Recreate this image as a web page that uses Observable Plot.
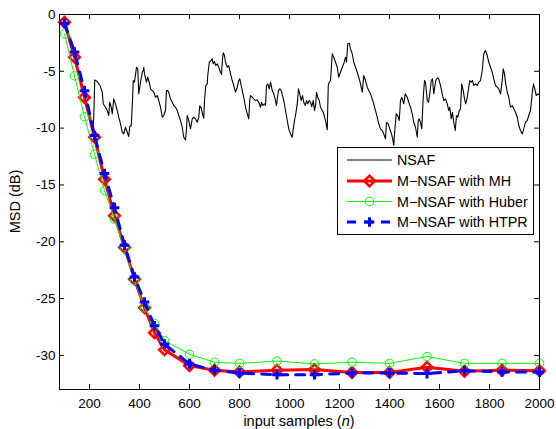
<!DOCTYPE html>
<html><head><meta charset="utf-8">
<script src="https://cdn.jsdelivr.net/npm/d3@7"></script>
<script src="https://cdn.jsdelivr.net/npm/@observablehq/plot@0.6"></script>
<style>
body{margin:0;background:#fff;}
</style>
</head><body><div id="chart"></div>
<script>
// ---------- data ----------
const nsafN = [100,140,180,214,217,221,231,244,251,255,264,271,277,281,287,291,297,304,311,317,324,331,337,344,351,357,361,367,372,375,380,388,393,397,404,411,415,417,420,428,433,439,444,451,457,464,471,477,484,491,497,504,508,513,519,524,531,537,544,551,557,564,571,577,584,588,591,597,604,611,617,624,631,637,641,647,652,657,660,665,671,673,679,684,691,695,700,705,711,717,724,728,732,735,740,744,751,757,764,771,777,784,791,797,801,807,811,817,824,831,837,841,844,851,857,864,871,877,884,888,893,900,904,908,913,919,924,931,937,944,948,952,956,961,967,972,977,984,991,997,1004,1011,1015,1020,1025,1031,1036,1041,1047,1052,1057,1063,1068,1073,1079,1084,1089,1095,1100,1105,1108,1113,1119,1124,1131,1137,1144,1151,1155,1159,1164,1171,1177,1184,1191,1197,1204,1211,1217,1224,1228,1233,1239,1244,1251,1257,1264,1271,1277,1284,1291,1297,1304,1311,1317,1324,1331,1337,1344,1351,1357,1364,1371,1377,1384,1388,1395,1401,1408,1413,1417,1421,1427,1433,1439,1444,1449,1457,1463,1471,1477,1484,1491,1497,1504,1511,1515,1519,1524,1529,1535,1540,1544,1551,1556,1561,1567,1572,1577,1585,1591,1597,1604,1611,1617,1624,1631,1637,1641,1647,1652,1657,1663,1668,1673,1679,1684,1689,1695,1700,1705,1711,1716,1721,1727,1732,1737,1744,1751,1757,1764,1771,1777,1784,1791,1797,1804,1811,1817,1824,1831,1837,1844,1851,1855,1860,1865,1871,1877,1884,1891,1897,1904,1911,1917,1924,1931,1937,1944,1951,1957,1964,1968,1972,1976,1981,1987,1993,2000];
const nsafDb = [-0.8,-3.6,-7.2,-10.2,-9.04,-5.75,-5.90,-6.34,-6.84,-7.86,-8.16,-8.45,-8.89,-7.72,-8.16,-8.74,-7.42,-7.86,-8.45,-9.04,-9.62,-10.36,-10.51,-9.92,-10.36,-10.74,-9.86,-9.77,-7.57,-5.81,-5.96,-4.64,-4.78,-6.98,-5.96,-5.08,-4.93,-4.64,-5.22,-5.96,-5.52,-5.96,-6.54,-6.69,-6.84,-7.28,-7.13,-7.57,-8.16,-9.04,-8.89,-8.45,-6.69,-6.69,-6.98,-7.42,-7.72,-8.01,-8.16,-8.45,-8.89,-9.33,-9.92,-10.80,-11.03,-10.06,-8.89,-9.33,-10.06,-9.18,-9.04,-9.18,-9.48,-9.04,-8.04,-8.22,-8.74,-9.13,-7.57,-6.25,-6.10,-5.37,-4.20,-4.11,-3.90,-4.34,-4.14,-4.49,-4.34,-4.64,-5.08,-5.28,-3.90,-3.37,-3.61,-4.20,-4.64,-4.49,-5.22,-5.81,-6.25,-6.84,-6.40,-5.81,-5.66,-6.25,-6.69,-7.28,-8.16,-8.74,-9.18,-7.57,-7.13,-7.28,-7.42,-7.57,-7.51,-7.72,-8.16,-7.72,-8.01,-7.86,-8.01,-6.25,-6.10,-6.54,-5.96,-6.69,-6.98,-7.57,-8.01,-7.28,-6.69,-6.54,-6.69,-7.13,-7.57,-8.45,-9.33,-10.06,-10.51,-10.80,-10.06,-9.33,-8.74,-7.86,-6.54,-6.98,-7.57,-7.13,-7.72,-8.01,-7.57,-7.86,-7.57,-7.72,-8.10,-7.57,-8.45,-7.86,-6.84,-7.28,-7.57,-8.16,-8.45,-8.74,-9.33,-10.15,-6.25,-5.96,-5.81,-3.46,-3.76,-4.20,-4.64,-5.52,-5.08,-4.64,-4.34,-3.76,-4.20,-2.58,-2.52,-3.02,-3.46,-4.20,-4.64,-5.08,-5.52,-6.10,-6.84,-5.37,-5.81,-6.40,-6.69,-6.98,-7.42,-7.86,-8.45,-9.04,-9.62,-10.06,-10.21,-10.51,-10.95,-9.48,-9.62,-10.06,-10.51,-10.95,-11.53,-10.21,-8.74,-8.89,-9.33,-7.57,-7.28,-7.86,-6.98,-7.28,-7.72,-8.16,-8.74,-9.48,-9.92,-10.80,-9.33,-9.18,-9.48,-10.06,-7.28,-5.81,-5.96,-7.57,-7.72,-6.98,-5.81,-5.66,-6.98,-5.81,-5.58,-5.66,-6.25,-6.98,-7.57,-7.42,-7.86,-8.45,-8.16,-9.18,-8.60,-9.48,-10.21,-8.89,-9.04,-8.45,-8.30,-6.10,-6.69,-7.42,-7.86,-7.28,-6.54,-5.81,-5.96,-5.81,-6.25,-6.10,-6.25,-5.96,-5.81,-4.93,-3.46,-3.17,-3.61,-4.20,-4.64,-5.08,-5.66,-6.25,-6.40,-6.54,-6.98,-5.81,-4.78,-5.22,-6.10,-6.84,-7.28,-8.16,-8.01,-8.30,-8.60,-9.04,-9.77,-10.21,-10.51,-10.06,-9.48,-9.33,-8.89,-8.45,-7.57,-6.69,-6.10,-6.54,-7.13,-6.98,-7.1];

const markerN = [100,140,180,220,260,300,340,380,420,460,500,600,700,800,950,1100,1250,1400,1550,1700,1850,2000];
const mhDb    = [-0.68,-3.76,-7.3,-10.8,-14.5,-17.7,-20.5,-23.3,-25.8,-28.0,-29.5,-30.9,-31.3,-31.45,-31.3,-31.25,-31.5,-31.5,-31.05,-31.4,-31.3,-31.35];
const huberDb = [-1.7,-5.4,-9.0,-12.3,-15.5,-18.0,-20.6,-23.4,-25.8,-27.2,-28.7,-29.9,-30.6,-30.7,-30.5,-30.75,-30.6,-30.7,-30.1,-30.7,-30.7,-30.7];
const htprDb  = [-0.77,-3.3,-6.7,-10.65,-14.0,-17.0,-20.3,-23.1,-25.3,-27.4,-29.0,-30.75,-31.3,-31.55,-31.7,-31.7,-31.55,-31.55,-31.6,-31.35,-31.45,-31.45];

const xTicks = [200,400,600,800,1000,1200,1400,1600,1800,2000];
const yTicks = [-30,-25,-20,-15,-10,-5,0];
const seriesNames = ["NSAF","M\u2212NSAF with MH","M\u2212NSAF with Huber","M\u2212NSAF with HTPR"];
const xLabel = "input samples (";
const xLabelVar = "n";
const yLabel = "MSD (dB)";

// ---------- build ----------
const nsaf = nsafN.map((n,i)=>({n, db:nsafDb[i]}));
const mh = markerN.map((n,i)=>({n, db:mhDb[i]}));
const huber = markerN.map((n,i)=>({n, db:huberDb[i]}));
const htpr = markerN.map((n,i)=>({n, db:htprDb[i]}));

const W=556, H=429, mt=14, mb=40, ml=59, mr=17;
const innerW = W-ml-mr, innerH = H-mt-mb;
const FONT = "'Liberation Sans', Arial, Helvetica, sans-serif";
const RED="#ff0000", GREEN="#00ff00", BLUE="#0000ff";
const DASH = "9,8";

const svg = Plot.plot({
  width:W, height:H, marginTop:mt, marginBottom:mb, marginLeft:ml, marginRight:mr,
  style:{fontFamily:FONT, fontSize:"13.5px", background:"white", color:"black", overflow:"visible"},
  x:{domain:[80,2000], label:null},
  y:{domain:[-33,0], label:null},
  marks:[
    Plot.line(nsaf,{x:"n", y:"db", stroke:"black", strokeWidth:1.1}),
    Plot.line(mh,{x:"n", y:"db", stroke:RED, strokeWidth:3}),
    Plot.dot(mh,{x:"n", y:"db", symbol:"diamond2", r:4.8, stroke:RED, strokeWidth:2.5, fill:"none"}),
    Plot.line(huber,{x:"n", y:"db", stroke:GREEN, strokeWidth:1}),
    Plot.dot(huber,{x:"n", y:"db", symbol:"circle", r:4.3, stroke:GREEN, strokeWidth:1, fill:"none"}),
    Plot.line(htpr,{x:"n", y:"db", stroke:BLUE, strokeWidth:3, strokeDasharray:DASH}),
    Plot.dot(htpr,{x:"n", y:"db", symbol:"plus", r:3.2, stroke:BLUE, strokeWidth:3}),
    Plot.tickX(xTicks,{x:d=>d, insetTop:innerH-5, stroke:"black"}),
    Plot.tickX(xTicks,{x:d=>d, insetBottom:innerH-5, stroke:"black"}),
    Plot.tickY(yTicks,{y:d=>d, insetRight:innerW-5, stroke:"black"}),
    Plot.tickY(yTicks,{y:d=>d, insetLeft:innerW-5, stroke:"black"}),
    Plot.frame({stroke:"black", strokeWidth:1}),
    Plot.axisX({ticks:xTicks, tickSize:0, tickPadding:9, tickFormat:d=>String(d), label:null}),
    Plot.axisY({ticks:yTicks, tickSize:0, tickPadding:4, tickFormat:d=>String(d), label:null})
  ]
});
document.getElementById("chart").appendChild(svg);

const s = d3.select(svg);
// axis labels
const xl = s.append("text").attr("x", ml+innerW/2).attr("y", 426)
  .attr("text-anchor","middle").attr("font-family",FONT).attr("font-size",14.5).attr("fill","black");
xl.append("tspan").text(xLabel);
xl.append("tspan").attr("font-style","italic").text(xLabelVar);
xl.append("tspan").text(")");
s.append("text").attr("transform",`translate(20,${mt+innerH/2}) rotate(-90)`)
  .attr("text-anchor","middle").attr("font-family",FONT).attr("font-size",14.5).attr("fill","black").text(yLabel);

// legend
const lg = s.append("g");
lg.append("rect").attr("x",337.5).attr("y",147.5).attr("width",196).attr("height",87)
  .attr("fill","white").attr("stroke","black").attr("stroke-width",1);
const rows = [160,181,201.5,222];
const styles = [
  {stroke:"black", w:1.1, dash:null, sym:null},
  {stroke:RED, w:3, dash:null, sym:"diamond2", r:4.8, sw:2.5},
  {stroke:GREEN, w:1, dash:null, sym:"circle", r:4.3, sw:1},
  {stroke:BLUE, w:3, dash:DASH, sym:"plus", r:3.2, sw:3}
];
const symMap = {diamond2:d3.symbolDiamond2, circle:d3.symbolCircle, plus:d3.symbolPlus};
seriesNames.forEach((name,i)=>{
  const y = rows[i], st = styles[i];
  const ln = lg.append("line").attr("x1",347).attr("x2",392).attr("y1",y).attr("y2",y)
    .attr("stroke",st.stroke).attr("stroke-width",st.w);
  if (st.dash) ln.attr("stroke-dasharray",st.dash);
  if (st.sym) {
    lg.append("path").attr("d", d3.symbol(symMap[st.sym], Math.PI*st.r*st.r)())
      .attr("transform",`translate(369.5,${y})`).attr("fill","none")
      .attr("stroke",st.stroke).attr("stroke-width",st.sw);
  }
  lg.append("text").attr("x",397).attr("y",y).attr("dy","0.35em").attr("text-anchor","start")
    .attr("font-family",FONT).attr("font-size",14.3).attr("fill","black").text(name);
});
</script>
</body></html>
